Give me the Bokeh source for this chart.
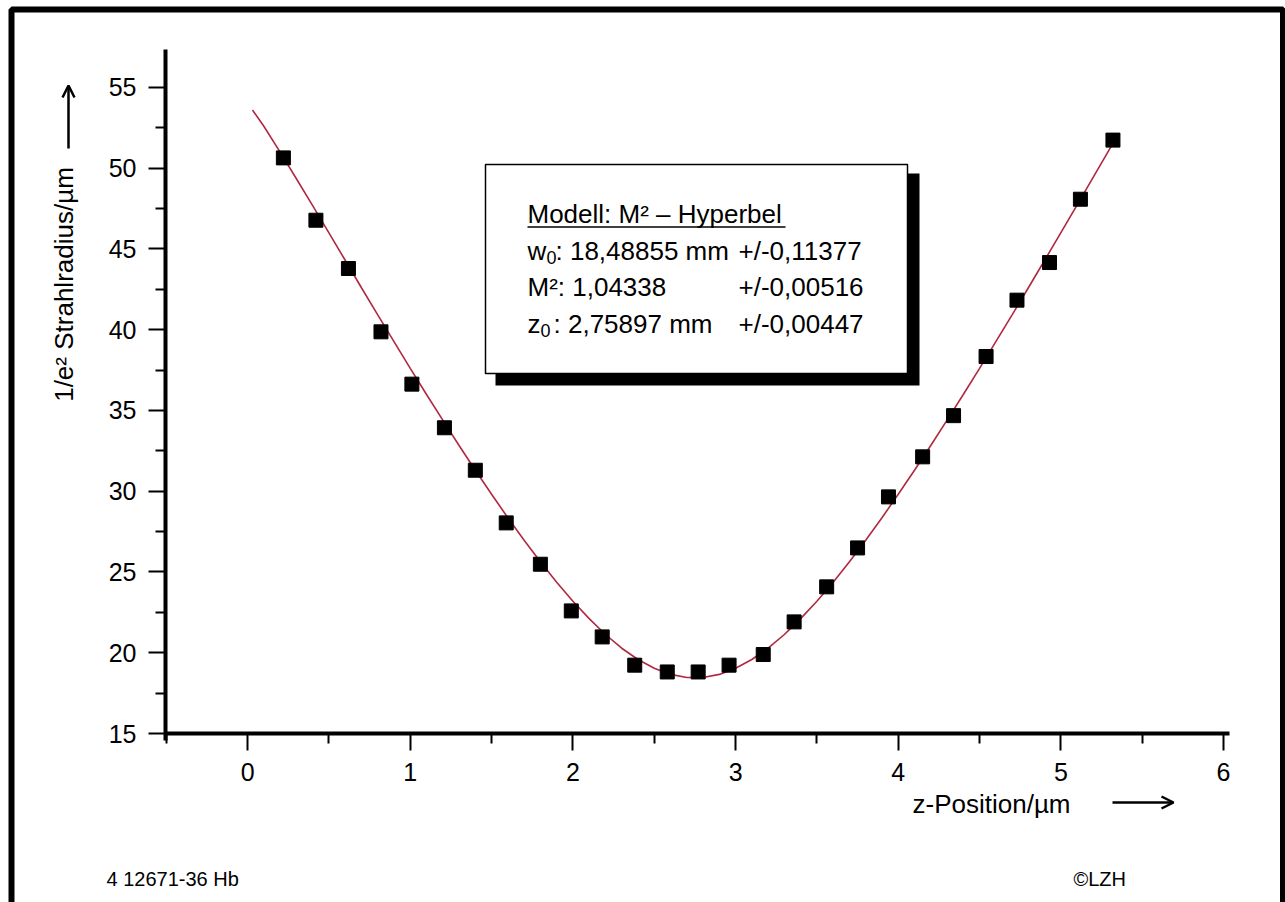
import math
from bokeh.plotting import figure
from bokeh.models import Label, BoxAnnotation, Arrow, OpenHead, FixedTicker
from bokeh.embed import file_html
from bokeh.resources import INLINE

# ---- data ----
z_pos = [0.22, 0.42, 0.62, 0.82, 1.01, 1.21, 1.40, 1.59, 1.80, 1.99, 2.18, 2.38, 2.58, 2.77,
         2.96, 3.17, 3.36, 3.56, 3.75, 3.94, 4.15, 4.34, 4.54, 4.73, 4.93, 5.12, 5.32]
radius = [50.64, 46.78, 43.79, 39.87, 36.63, 33.93, 31.30, 28.04, 25.48, 22.59, 20.98, 19.23, 18.81, 18.81,
          19.23, 19.89, 21.91, 24.08, 26.49, 29.65, 32.13, 34.68, 38.34, 41.83, 44.16, 48.08, 51.74]

fit_z = [0.03, 0.1, 0.2, 0.3, 0.4, 0.5, 0.6, 0.7, 0.8, 0.9, 1.0, 1.1, 1.2, 1.3, 1.4, 1.5, 1.6, 1.7,
         1.8, 1.9, 2.0, 2.1, 2.2, 2.3, 2.4, 2.5, 2.6, 2.7, 2.8, 2.9, 3.0, 3.1, 3.2, 3.3, 3.4, 3.5,
         3.6, 3.7, 3.8, 3.9, 4.0, 4.1, 4.2, 4.3, 4.4, 4.5, 4.6, 4.7, 4.8, 4.9, 5.0, 5.1, 5.2, 5.3, 5.32]
fit_w = [53.60, 52.60, 51.00, 49.35, 47.68, 46.00, 44.30, 42.60, 40.92, 39.26, 37.61, 35.99, 34.40,
         32.83, 31.30, 29.81, 28.36, 26.97, 25.63, 24.37, 23.19, 22.11, 21.13, 20.28, 19.58, 19.04,
         18.66, 18.47, 18.47, 18.66, 19.04, 19.58, 20.28, 21.13, 22.11, 23.19, 24.37, 25.63, 26.97,
         28.36, 29.81, 31.30, 32.83, 34.40, 35.99, 37.61, 39.26, 40.92, 42.60, 44.30, 46.01, 47.73,
         49.46, 51.20, 51.55]

x_ticks = [0, 1, 2, 3, 4, 5, 6]
y_ticks = [15, 20, 25, 30, 35, 40, 45, 50, 55]

info_title = "Modell: M² – Hyperbel"
info_rows = [("w", ": 18,48855 mm", "+/-0,11377"),
             ("M²", ": 1,04338", "+/-0,00516"),
             ("z", ": 2,75897 mm", "+/-0,00447")]

x_label = "z-Position/µm"
y_label = "1/e² Strahlradius/µm"
footer_left = "4 12671-36 Hb"
footer_right = "©LZH"

# ---- layout: the frame covers the whole canvas, axes sit at fixed locations ----
W, H = 1285, 902
XS, X_ORIGIN_PX = 162.66, 247.1     # px per unit, px of x = 0
YS, Y15_PX = 16.151, 733.0          # px per unit, px of y = 15
FONT = "Liberation Sans"


def dx(px):
    return (px - X_ORIGIN_PX) / XS


def dy(py):
    return 15 + (Y15_PX - py) / YS


p = figure(width=W, height=H, x_range=(dx(0), dx(W)), y_range=(dy(H), dy(0)),
           output_backend="svg", toolbar_location=None,
           min_border=0, min_border_left=0, min_border_right=0,
           min_border_top=0, min_border_bottom=0)
p.title.visible = False
p.outline_line_color = None
p.grid.visible = False
p.background_fill_color = "white"
p.border_fill_color = "white"

p.xaxis.ticker = FixedTicker(ticks=x_ticks,
                             minor_ticks=[x_ticks[0] - 0.5] + [t + 0.5 for t in x_ticks[:-1]])
p.yaxis.ticker = FixedTicker(ticks=y_ticks,
                             minor_ticks=[t + 2.5 for t in y_ticks[:-1]])
p.xaxis.fixed_location = y_ticks[0]
p.xaxis.bounds = (dx(165), dx(1229))
p.yaxis.fixed_location = dx(165)
p.yaxis.bounds = (dy(740), dy(49))

for ax in (p.xaxis[0], p.yaxis[0]):
    ax.axis_line_width = 4
    ax.axis_line_color = "black"
    ax.major_tick_line_width = 2
    ax.minor_tick_line_width = 2
    ax.major_tick_line_color = "black"
    ax.minor_tick_line_color = "black"
    ax.major_tick_in = 0
    ax.major_tick_out = 17
    ax.minor_tick_in = 0
    ax.minor_tick_out = 10
    ax.major_label_text_font = FONT
    ax.major_label_text_font_size = "25px"
    ax.major_label_text_color = "black"
    ax.major_label_standoff = 12

# ---- data ----
p.line(fit_z, fit_w, line_color="#b02840", line_width=1.6)
p.scatter(z_pos, radius, marker="square", size=14, fill_color="black", line_color="black")

# ---- info box ----
p.add_layout(BoxAnnotation(left=dx(495), right=dx(919), top=dy(173), bottom=dy(385),
                           fill_color="black", fill_alpha=1, line_color=None))
p.add_layout(BoxAnnotation(left=dx(485), right=dx(907), top=dy(164), bottom=dy(373),
                           fill_color="white", fill_alpha=1, line_color="black",
                           line_alpha=1, line_width=1.5))


def lbl(px, py, text, size="26px", **kw):
    # py is the visual centre line of the text
    p.add_layout(Label(x=dx(px), y=dy(py), text=text, text_font=FONT,
                       text_font_size=size, text_color="black",
                       text_baseline="alphabetic",
                       text_align=kw.pop("align", "left"), **kw))


lbl(527, 213.4, info_title)
p.add_layout(Arrow(x_start=dx(527), y_start=dy(226.5), x_end=dx(785), y_end=dy(226.5),
                   start=None, end=None, line_width=1.5, line_color="black"))

centres = [250.0, 286.7, 323.3]
# row 1: w0
lbl(527, centres[0], info_rows[0][0])
lbl(546, centres[0] + 7, "0", size="18px")
lbl(555, centres[0], info_rows[0][1])
lbl(738, centres[0], info_rows[0][2])
# row 2: M²
lbl(527, centres[1], info_rows[1][0] + info_rows[1][1])
lbl(738, centres[1], info_rows[1][2])
# row 3: z0
lbl(527, centres[2], info_rows[2][0])
lbl(540, centres[2] + 7, "0", size="18px")
lbl(553, centres[2], info_rows[2][1])
lbl(738, centres[2], info_rows[2][2])

# ---- axis titles with arrows ----
lbl(912, 803, x_label)
p.add_layout(Arrow(x_start=dx(1112), y_start=dy(802), x_end=dx(1173), y_end=dy(802),
                   line_width=2.5, line_color="black",
                   end=OpenHead(size=12, line_width=2.5, line_color="black")))

lbl(63, 284, y_label, align="center", angle=math.pi / 2)
p.add_layout(Arrow(x_start=dx(68), y_start=dy(148), x_end=dx(68), y_end=dy(85),
                   line_width=2.5, line_color="black",
                   end=OpenHead(size=12, line_width=2.5, line_color="black")))

# ---- footer ----
lbl(106, 878, footer_left, size="20px")
lbl(1073, 878, footer_right, size="20px")

# ---- outer frame ----
p.add_layout(BoxAnnotation(left=dx(11), right=dx(1282.5), top=dy(9), bottom=dy(930),
                           fill_alpha=0, line_color="black", line_alpha=1, line_width=6))

open("out.html", "w").write(file_html(p, INLINE))
